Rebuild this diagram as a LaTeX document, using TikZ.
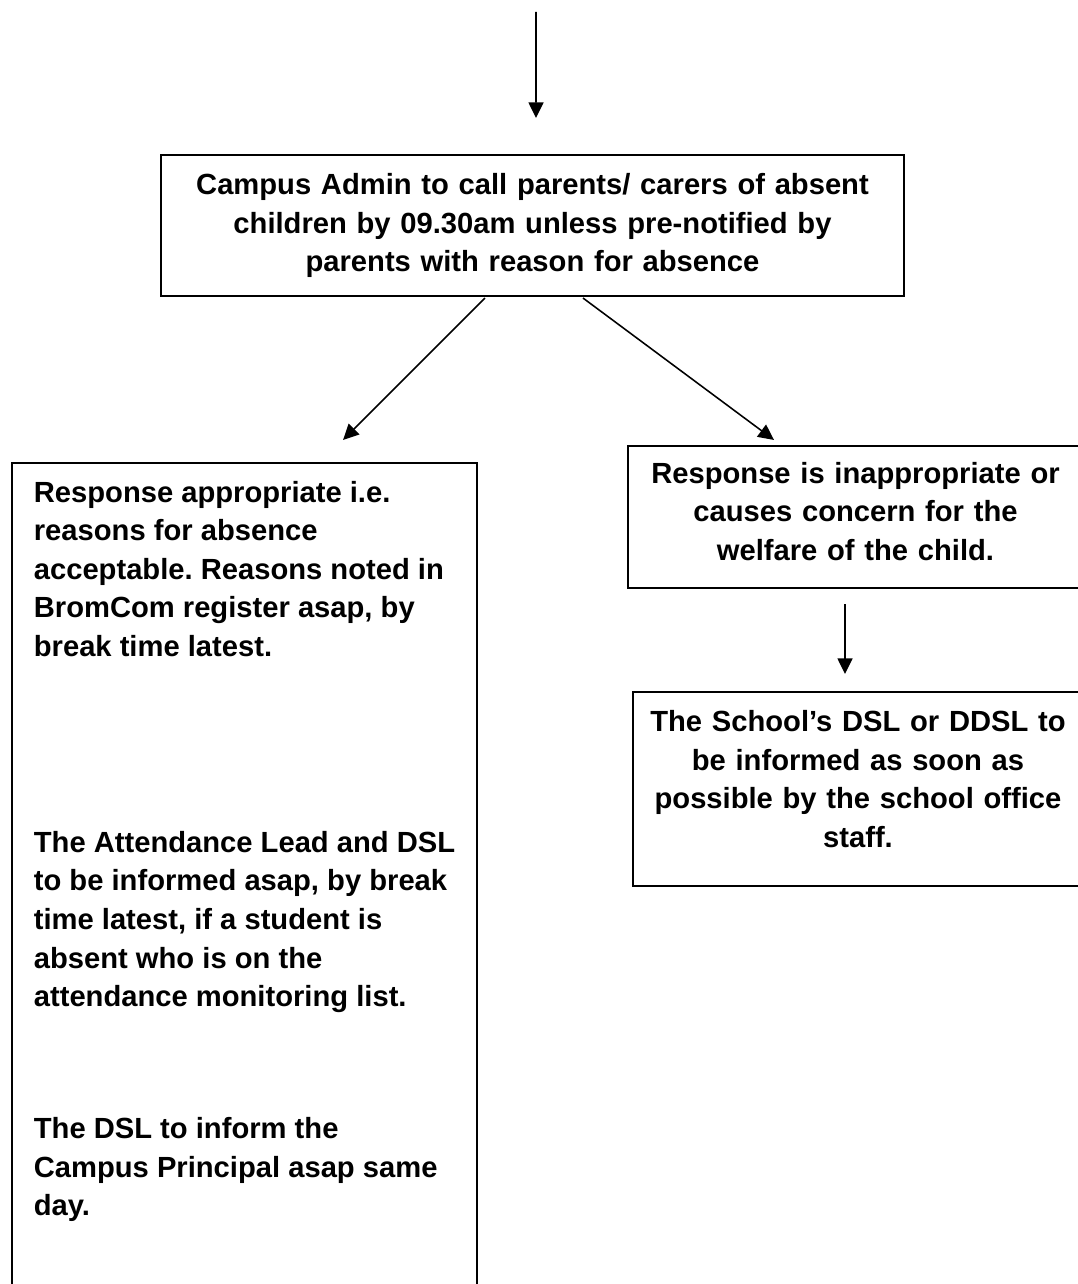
\documentclass[tikz,border=0pt]{standalone}
\usepackage{fontspec}
\setmainfont{Liberation Sans}
\frenchspacing
\usetikzlibrary{arrows.meta,calc}

\begin{document}
\begin{tikzpicture}[x=0.48pt,y=-0.48pt,
    box/.style={draw,line width=1pt,inner sep=0pt,align=center,
        font=\fontsize{14}{18.5}\selectfont\bfseries\frenchspacing},
    arr/.style={line width=0.75pt,-{Triangle[length=7.5pt,width=7.2pt]}}]
    \useasboundingbox (0,0) rectangle (1078,1284);
    \clip (0,0) rectangle (1078,1284);
    \node[box,minimum width=356.64pt,minimum height=67.68pt,text width=340pt] (C) at (532.5,225.5)
        {Campus Admin to call parents/ carers of absent\\children by 09.30am unless pre-notified by\\parents with reason for absence};
    \node[box,anchor=north west,align=left,minimum width=223.2pt,inner xsep=10pt,inner ysep=8.65pt] (L) at (11,462)
        {Response appropriate i.e.\\reasons for absence\\acceptable. Reasons noted in\\BromCom register asap, by\\break time latest.\\[75.6pt]
         The Attendance Lead and DSL\\to be informed asap, by break\\time latest, if a student is\\absent who is on the\\attendance monitoring list.\\[44.9pt]
         The DSL to inform the\\Campus Principal asap same\\day.\\[40pt]\mbox{}};
    \node[box,minimum width=218.4pt,minimum height=68.16pt,text width=210pt] (R) at (855.5,517)
        {Response is inappropriate or\\causes concern for the\\welfare of the child.\\[-12.74pt]\mbox{}};
    \node[box,minimum width=216pt,minimum height=93.12pt,text width=210pt] (D) at (858,789)
        {The School’s DSL or DDSL to\\be informed as soon as\\possible by the school office\\staff.\\[-8.9pt]\mbox{}};
    \coordinate (top) at (536,12);
    \draw[arr] (top) -- ($(C.north)+(3.5,-36)$);
    \draw[arr] ($(C.south)+(-47.5,1)$) -- ($(L.north)+(98.5,-22)$);
    \draw[arr] ($(C.south)+(50.5,1)$) -- ($(R.north)+(-81.5,-5)$);
    \draw[arr] ($(R.south)+(-10.5,15)$) -- ($(D.north)+(-13,-17)$);
\end{tikzpicture}
\end{document}
